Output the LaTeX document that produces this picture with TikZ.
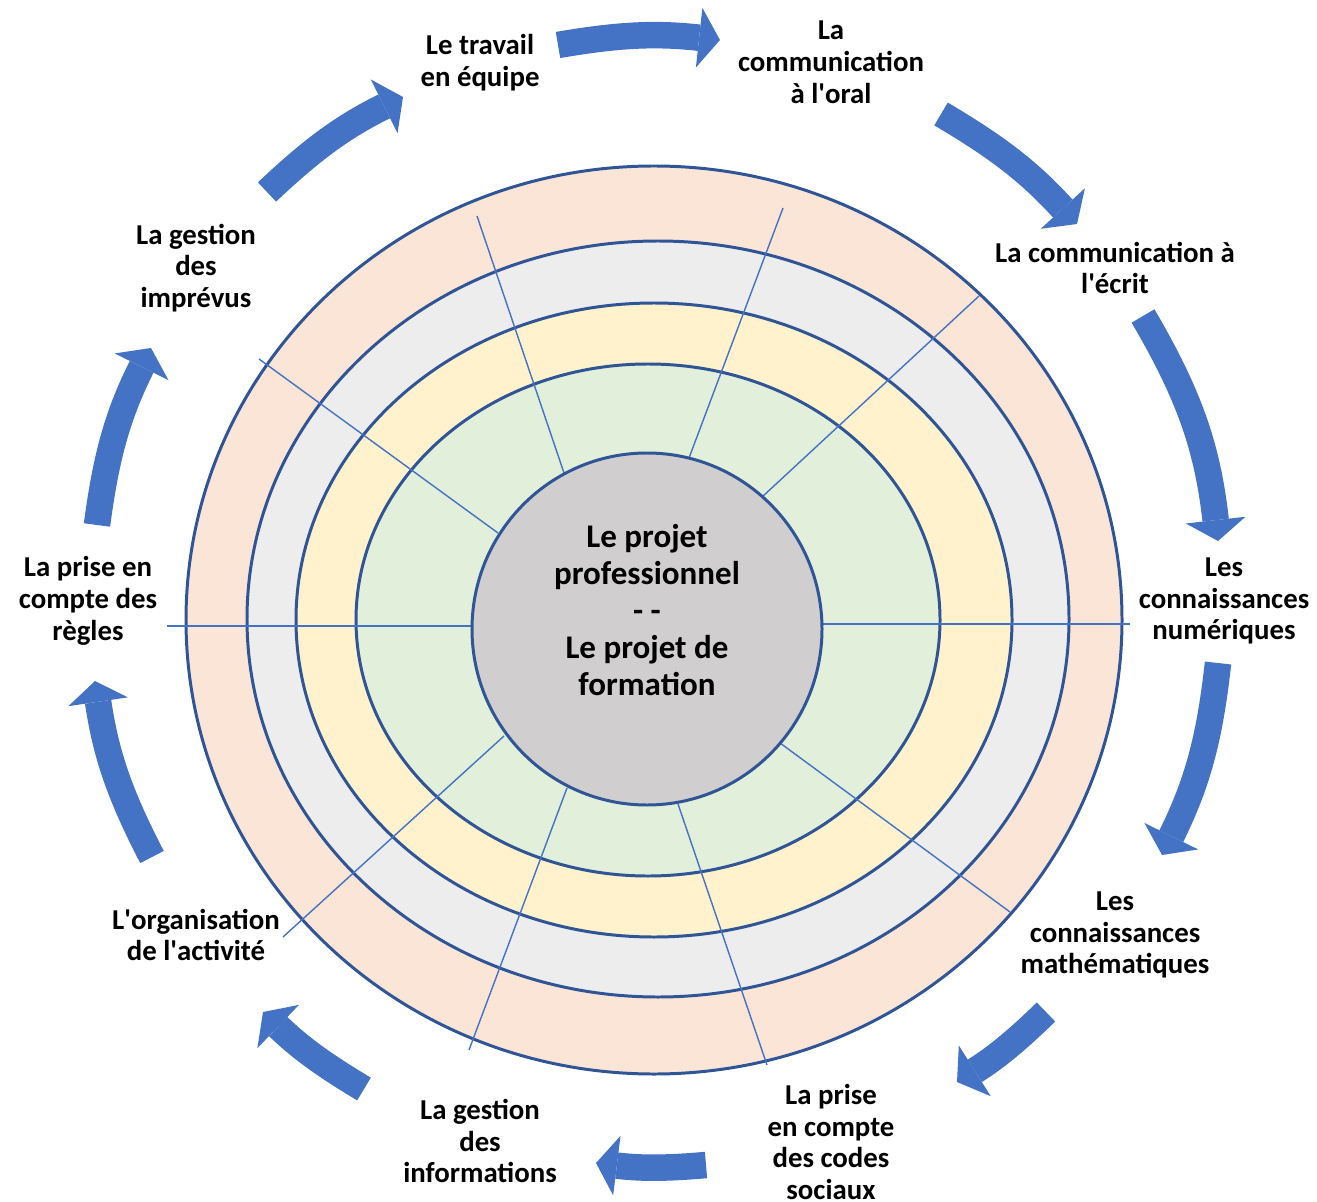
\documentclass[tikz,border=0pt]{standalone}
\usepackage{fontspec}
\setmainfont{Carlito}
\usepackage{xcolor}
\usepackage{tikz}
\usetikzlibrary{arrows.meta}
\definecolor{ringblue}{HTML}{2F5597}
\definecolor{spokeblue}{HTML}{4472C4}
\definecolor{pinkring}{HTML}{FBE5D6}
\definecolor{greyring}{HTML}{EDEDED}
\definecolor{yellowring}{HTML}{FFF2CC}
\definecolor{greenring}{HTML}{E2EFDA}
\definecolor{centregrey}{HTML}{D0CECE}
\tikzstyle{ring} = [draw=ringblue, line width=1.7pt]
\tikzstyle{spoke} = [draw=spokeblue, line width=0.8pt]
\tikzstyle{skill} = [align=center, inner sep=0pt, font=\fontsize{16.4}{18.1}\selectfont\bfseries]
\tikzstyle{bigarrow} = [draw=spokeblue, line width=0.53cm, -{Triangle[length=0.42cm, width=1.2cm, line width=0pt]}]
\newcommand{\ap}{\textquotesingle}

\begin{document}
\begin{tikzpicture}[x=0.02cm, y=-0.02cm]
    \useasboundingbox (0,0) rectangle (1317,1202);
    % rings
    \filldraw[ring, fill=pinkring] (654,620) ellipse [x radius=468, y radius=454];
    \filldraw[ring, fill=greyring] (658,619) ellipse [x radius=411, y radius=378];
    \filldraw[ring, fill=yellowring] (654,620) ellipse [x radius=358, y radius=317];
    \filldraw[ring, fill=greenring] (648,620) ellipse [x radius=292, y radius=256];
    % spokes
    \draw[spoke] (498,533) -- (259,359);
    \draw[spoke] (564,473) -- (477,216);
    \draw[spoke] (689,458) -- (783,208);
    \draw[spoke] (762,497) -- (979,296);
    \draw[spoke] (822,624) -- (1130,624);
    \draw[spoke] (780,743) -- (1010,912);
    \draw[spoke] (678,804) -- (767,1065);
    \draw[spoke] (567,788) -- (469,1050);
    \draw[spoke] (504,736) -- (283,937);
    \draw[spoke] (471,626) -- (167,626);
    % centre
    \filldraw[ring, fill=centregrey] (647,629) ellipse [x radius=175, y radius=176];
    \node[skill, font=\fontsize{18.8}{21}\selectfont\bfseries] (projet) at (647,610) {Le projet\\professionnel\\- -\\Le projet de\\formation};
    % labels
    \node[skill] (travail) at (480,63) {Le travail\\en équipe};
    \node[skill] (oral) at (831,62) {La\\communication\\à l\ap oral};
    \node[skill] (ecrit) at (1115,268) {La communication à\\l\ap écrit};
    \node[skill] (numerique) at (1224,601) {Les\\connaissances\\numériques};
    \node[skill] (maths) at (1115,935) {Les\\connaissances\\mathématiques};
    \node[skill] (codes) at (831,1142) {La prise\\en compte\\des codes\\sociaux};
    \node[skill] (infos) at (480,1141) {La gestion\\des\\informations};
    \node[skill] (activite) at (196,935) {L\ap organisation\\de l\ap activité};
    \node[skill] (regles) at (88,601) {La prise en\\compte des\\règles};
    \node[skill] (imprevus) at (196,268) {La gestion\\des\\imprévus};
    % arrows
    \coordinate (t1) at (558,45);    \coordinate (h1) at (720,40);
    \coordinate (t2) at (941,114);   \coordinate (h2) at (1077,224);
    \coordinate (t3) at (1143,316);  \coordinate (h3) at (1218,541);
    \coordinate (t4) at (1218,663);  \coordinate (h4) at (1162,855);
    \coordinate (t5) at (1046,1012); \coordinate (h5) at (957,1082);
    \coordinate (t6) at (706,1165);  \coordinate (h6) at (596,1163);
    \coordinate (t7) at (364,1089);  \coordinate (h7) at (263,1012);
    \coordinate (t8) at (152,857);   \coordinate (h8) at (95,681);
    \coordinate (t9) at (97,525);    \coordinate (h9) at (151,348);
    \coordinate (t10) at (267,192);  \coordinate (h10) at (403,97);
    \draw[bigarrow] (t1) to[bend left=8] (h1);
    \draw[bigarrow] (t2) to[bend left=8.5] (h2);
    \draw[bigarrow] (t3) to[bend left=12] (h3);
    \draw[bigarrow] (t4) to[bend left=10] (h4);
    \draw[bigarrow] (t5) to[bend left=6] (h5);
    \draw[bigarrow] (t6) to[bend left=6] (h6);
    \draw[bigarrow] (t7) to[bend left=6.5] (h7);
    \draw[bigarrow] (t8) to[bend left=9.5] (h8);
    \draw[bigarrow] (t9) to[bend left=9.5] (h9);
    \draw[bigarrow] (t10) to[bend left=8.5] (h10);
\end{tikzpicture}
\end{document}
